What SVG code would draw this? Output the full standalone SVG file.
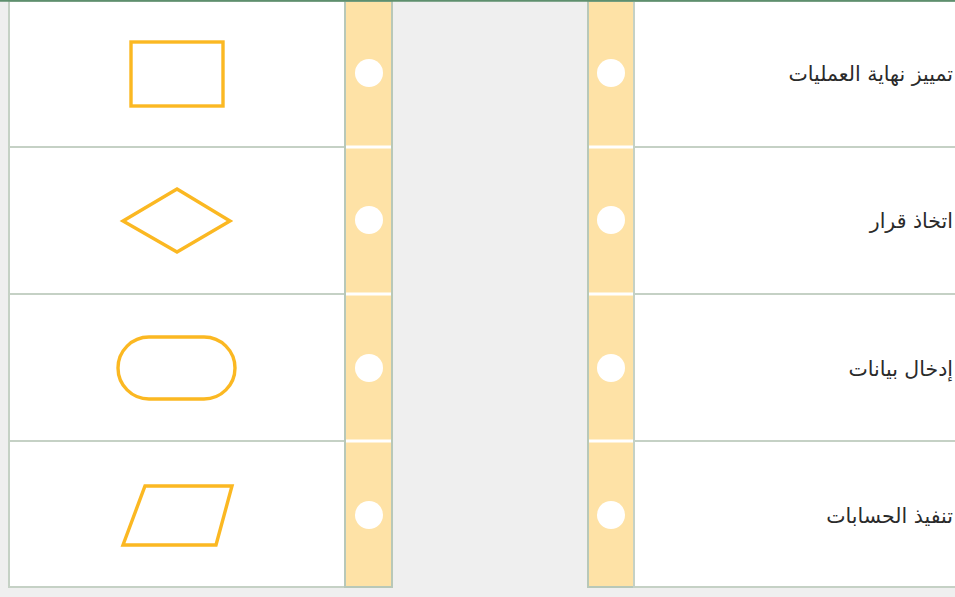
<svg xmlns="http://www.w3.org/2000/svg" width="955" height="597" viewBox="0 0 955 597">
<style>
.cell{fill:#ffffff;stroke:#c5d1c5;stroke-width:2}
.strip{fill:#fee2a6;stroke:#b8c8b8;stroke-width:2}
.sep{stroke:#ffffff;stroke-width:3}
.hole{fill:#ffffff}
.shape{fill:none;stroke:#fbb822;stroke-width:3.4;stroke-linejoin:miter}
.lbl{font-family:"DejaVu Sans","Noto Sans",sans-serif;font-size:20.5px;fill:#2a2a2a;text-anchor:start;direction:rtl}
</style>
<rect x="0" y="0" width="955" height="597" fill="#efefef"/>
<g id="left-table">
<rect class="cell" x="9" y="1" width="336" height="146"/>
<rect class="cell" x="9" y="147" width="336" height="147"/>
<rect class="cell" x="9" y="294" width="336" height="147"/>
<rect class="cell" x="9" y="441" width="336" height="146"/>
<rect class="strip" x="345" y="1" width="47" height="586"/>
<line class="sep" x1="346" y1="147" x2="391" y2="147"/>
<line class="sep" x1="346" y1="294" x2="391" y2="294"/>
<line class="sep" x1="346" y1="441" x2="391" y2="441"/>
<circle class="hole" cx="369" cy="73" r="14"/>
<circle class="hole" cx="369" cy="220" r="14"/>
<circle class="hole" cx="369" cy="368" r="14"/>
<circle class="hole" cx="369" cy="515" r="14"/>
</g>
<g id="right-table">
<rect class="strip" x="588" y="1" width="46" height="586"/>
<line class="sep" x1="589" y1="147" x2="633" y2="147"/>
<line class="sep" x1="589" y1="294" x2="633" y2="294"/>
<line class="sep" x1="589" y1="441" x2="633" y2="441"/>
<rect class="cell" x="634" y="1" width="330" height="146"/>
<rect class="cell" x="634" y="147" width="330" height="147"/>
<rect class="cell" x="634" y="294" width="330" height="147"/>
<rect class="cell" x="634" y="441" width="330" height="146"/>
<circle class="hole" cx="611" cy="73" r="14"/>
<circle class="hole" cx="611" cy="220" r="14"/>
<circle class="hole" cx="611" cy="368" r="14"/>
<circle class="hole" cx="611" cy="515" r="14"/>
</g>
<line x1="0" y1="0.8" x2="955" y2="0.8" stroke="#5e8f6e" stroke-width="1.8"/>
<g id="node-rect"><rect class="shape" x="131" y="42" width="92" height="64"/></g>
<g id="node-diamond"><polygon class="shape" points="177,189 230,221 177,252 123,221"/></g>
<g id="node-terminal"><rect class="shape" x="118" y="337" width="117" height="62" rx="31" ry="31"/></g>
<g id="node-parallelogram"><polygon class="shape" points="145,486 232,486 216,545 123,545"/></g>
<g id="label-1"><text class="lbl" x="953" y="81">تمييز نهاية العمليات</text></g>
<g id="label-2"><text class="lbl" x="953" y="228">اتخاذ قرار</text></g>
<g id="label-3"><text class="lbl" x="953" y="376">إدخال بيانات</text></g>
<g id="label-4"><text class="lbl" x="953" y="523">تنفيذ الحسابات</text></g>
</svg>
